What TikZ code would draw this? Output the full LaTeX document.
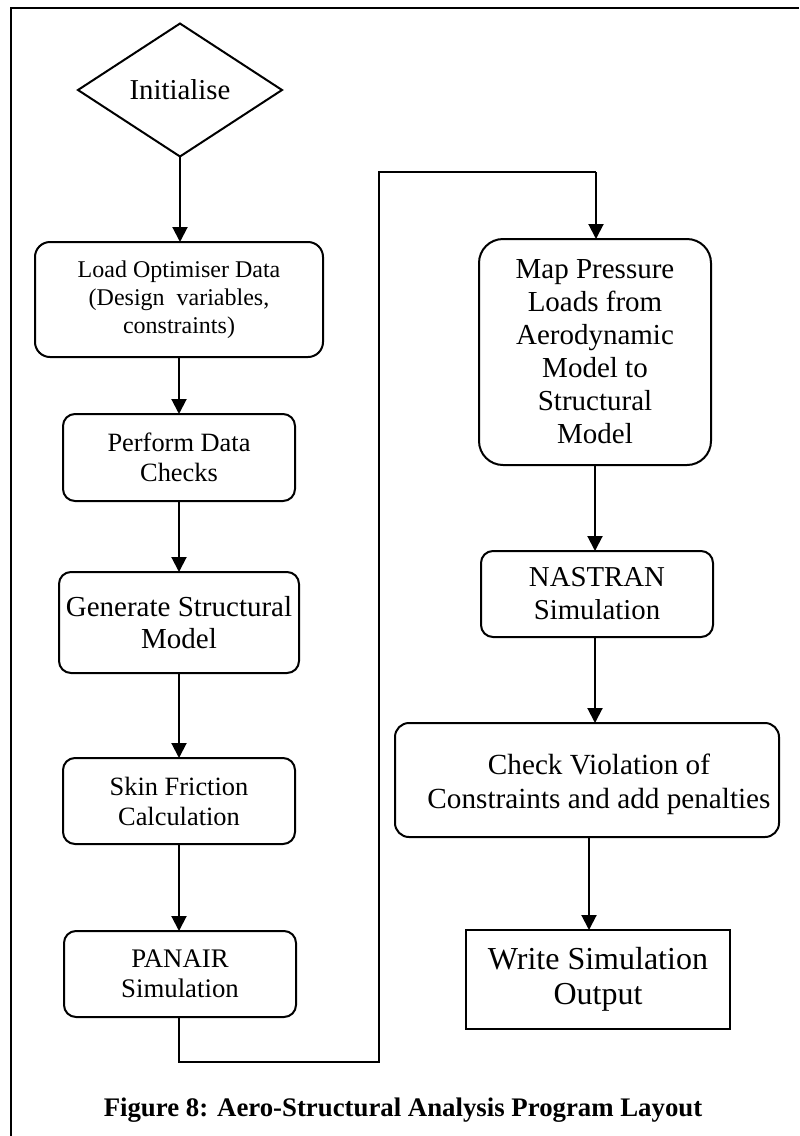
\documentclass[tikz,border=0pt]{standalone}
\usepackage{fontspec}
\setmainfont{Liberation Serif}
\usetikzlibrary{shapes.geometric,arrows.meta}

\begin{document}
\begin{tikzpicture}[x=0.5pt,y=-0.5pt,
  every node/.style={inner sep=0pt, outer sep=0pt},
  proc/.style={draw, line width=1pt, rounded corners=6pt, align=center},
  plainbox/.style={draw, line width=1pt, align=center},
  flow/.style={line width=1pt, -{Triangle[length=7.5pt,width=7.5pt]}},
  link/.style={line width=1pt}]

\useasboundingbox (0,0) rectangle (799,1136);

% frame of the figure (only top and left edges fall on the page)
\draw[line width=1.3pt] (11,1136) -- (11,8) -- (799,8);

% left column
\node[draw, line width=1pt, shape=diamond, minimum width=102pt, minimum height=66.5pt,
      font=\fontsize{14.4}{17}\selectfont] (init) at (180,90) {Initialise};

\node[proc, rounded corners=7.5pt, minimum width=144pt, minimum height=57.5pt,
      font=\fontsize{12}{14}\selectfont] (load) at (179,299.5)
  {Load Optimiser Data\\(Design\ \ variables,\\constraints)};

\node[proc, minimum width=116pt, minimum height=43.5pt,
      font=\fontsize{13.2}{15}\selectfont] (check1) at (179,457.5)
  {Perform Data\\Checks};

\node[proc, minimum width=120pt, minimum height=50.5pt,
      font=\fontsize{14.5}{16}\selectfont] (gen) at (179,622.5)
  {Generate Structural\\Model};

\node[proc, minimum width=116pt, minimum height=43pt,
      font=\fontsize{13.2}{15}\selectfont] (skin) at (179,801)
  {Skin Friction\\Calculation};

\node[proc, minimum width=116pt, minimum height=43pt,
      font=\fontsize{13.4}{15}\selectfont] (panair) at (180,974)
  {PANAIR\\Simulation};

% right column
\node[proc, rounded corners=12pt, minimum width=116pt, minimum height=113pt,
      font=\fontsize{14.5}{16.5}\selectfont] (map) at (595,352)
  {Map Pressure\\Loads from\\Aerodynamic\\Model to\\Structural\\Model};

\node[proc, minimum width=116pt, minimum height=43pt,
      font=\fontsize{14.4}{16.5}\selectfont] (nastran) at (597,594)
  {NASTRAN\\Simulation};

\node[proc, rounded corners=7pt, minimum width=192pt, minimum height=57pt,
      label={[xshift=6pt, yshift=-2pt, align=center, font=\fontsize{14.6}{17}\selectfont]center:Check Violation of\\Constraints and add penalties}]
  (viol) at (587,780) {};

\node[plainbox, minimum width=132pt, minimum height=49.5pt,
      font=\fontsize{16}{17.5}\selectfont] (write) at (598,979.5)
  {Write Simulation\\Output};

% caption
\node[font=\bfseries\fontsize{13.4}{16}\selectfont] (cap) at (403,1110)
  {Figure 8: Aero-Structural Analysis Program Layout};

% connectors
\draw[flow] (init.south) -- (init.south |- load.north);
\draw[flow] (load.south) -- (check1.north);
\draw[flow] (check1.south) -- (gen.north);
\draw[flow] (gen.south) -- (skin.north);
\draw[flow] (skin.south) -- (skin.south |- panair.north);

\coordinate (b1) at (179,1062);
\coordinate (b2) at (379,1062);
\coordinate (b3) at (379,172);
\coordinate (b4) at (596,172);
\draw[link] (panair.south -| b1) -- (b1) -- (b2) -- (b3) -- (b4);
\draw[flow] (b4) -- (map.north -| b4);

\draw[flow] (map.south) -- (map.south |- nastran.north);
\draw[flow] ([xshift=-1pt]nastran.south) -- ([xshift=-1pt]nastran.south |- viol.north);
\draw[flow] ([xshift=1pt]viol.south) -- ([xshift=1pt]viol.south |- write.north);

\end{tikzpicture}
\end{document}
